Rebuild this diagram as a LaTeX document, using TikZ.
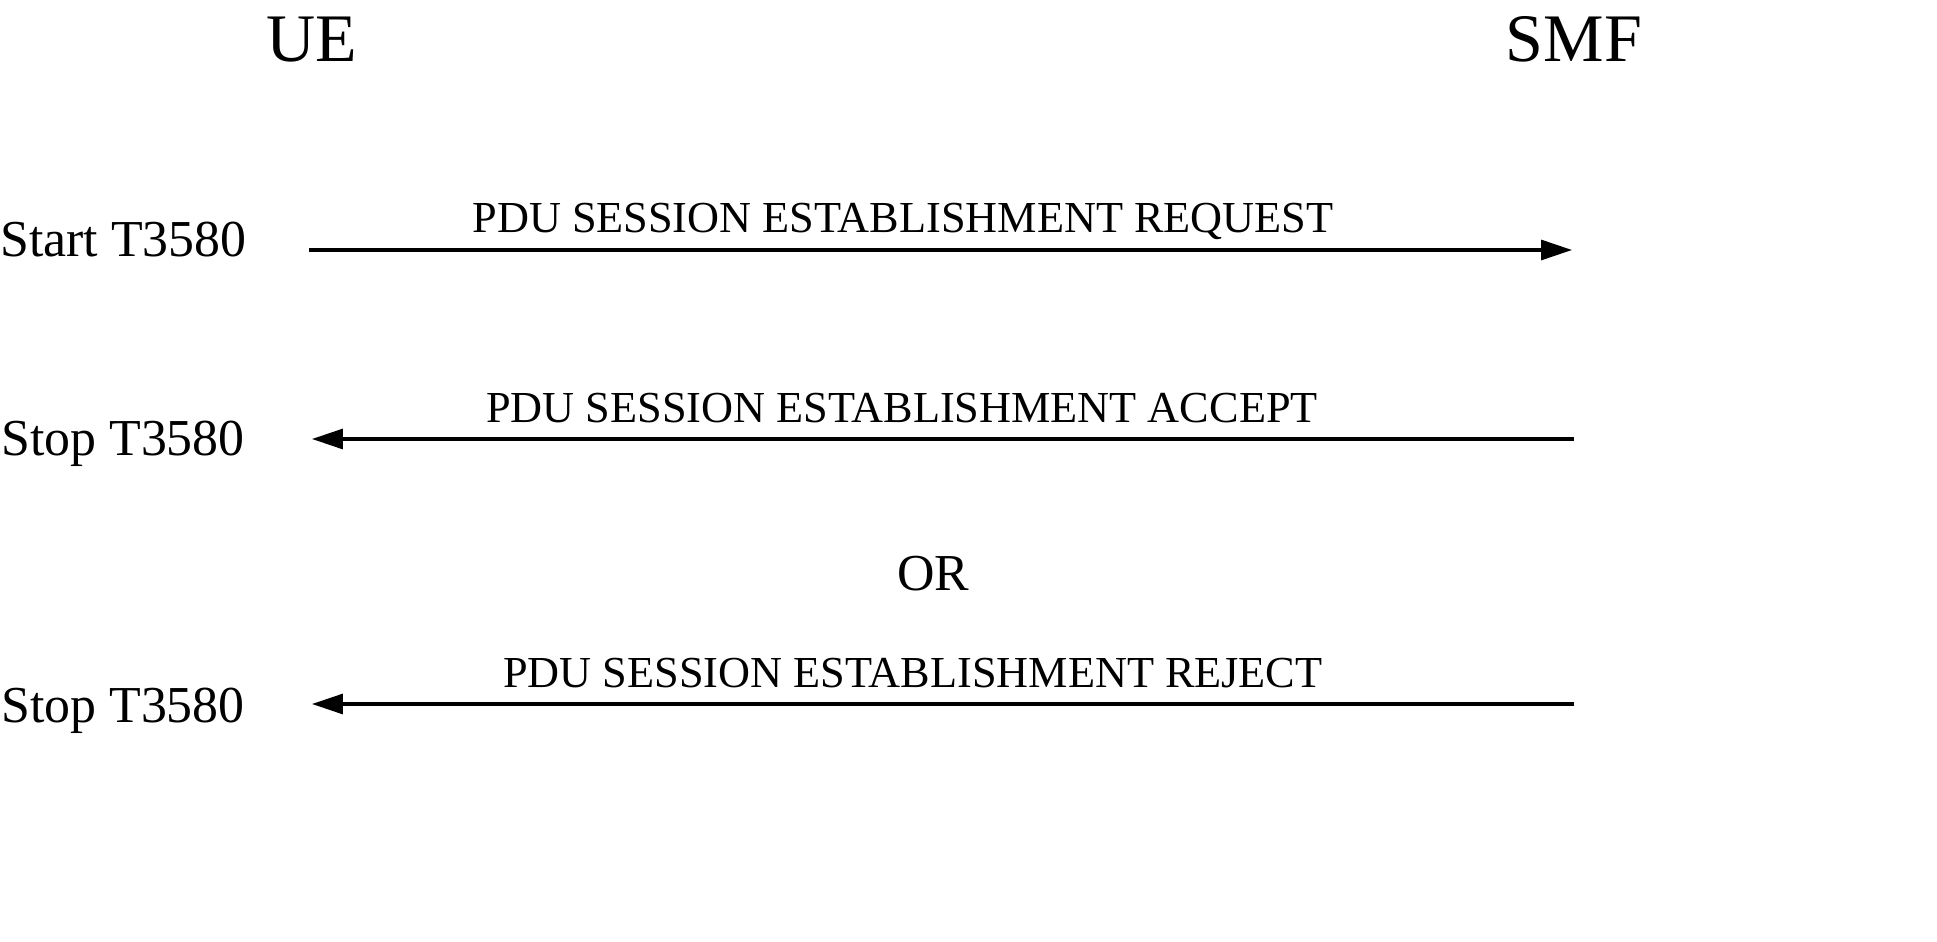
\documentclass[tikz,border=0pt]{standalone}
\usepackage{fontspec}
\setmainfont{Liberation Serif}
\usetikzlibrary{arrows.meta}

\newcommand{\bigtxt}{\fontsize{38.7}{46}\selectfont}
\newcommand{\sidetxt}{\fontsize{29.5}{35}\selectfont}
\newcommand{\msgtxt}{\fontsize{25.2}{30}\selectfont}

\begin{document}
\begin{tikzpicture}[x=0.02cm,y=-0.02cm,
   msg/.style={line width=1.8pt,-{Triangle[length=0.62cm,width=0.4cm]}}]
   \useasboundingbox (0,0) rectangle (1937,942);
   % entities
   \node[anchor=base,inner sep=0] (ue) at (312,62) {\bigtxt UE};
   \node[anchor=base,inner sep=0] (smf) at (1574,62) {\bigtxt SMF};
   % timer actions
   \node[anchor=base west,inner sep=0] (start) at (0,257) {\sidetxt Start T3580};
   \node[anchor=base west,inner sep=0] (stopa) at (1,456) {\sidetxt Stop T3580};
   \node[anchor=base west,inner sep=0] (stopr) at (1,722) {\sidetxt Stop T3580};
   \node[anchor=base,inner sep=0] (or) at (933,590) {\sidetxt OR};
   % arrow ends
   \coordinate (uereq) at (309,250);
   \coordinate (smfreq) at (1572,250);
   \coordinate (ueacc) at (312,439);
   \coordinate (smfacc) at (1574,439);
   \coordinate (uerej) at (312,704);
   \coordinate (smfrej) at (1574,704);
   % messages
   \draw[msg] (uereq) -- (smfreq);
   \draw[msg] (smfacc) -- (ueacc);
   \draw[msg] (smfrej) -- (uerej);
   \node[anchor=base,inner sep=0] (req) at (903,233) {\msgtxt PDU SESSION ESTABLISHMENT REQUEST};
   \node[anchor=base,inner sep=0] (acc) at (902,422) {\msgtxt PDU SESSION ESTABLISHMENT ACCEPT};
   \node[anchor=base,inner sep=0] (rej) at (913,687) {\msgtxt PDU SESSION ESTABLISHMENT REJECT};
\end{tikzpicture}
\end{document}
